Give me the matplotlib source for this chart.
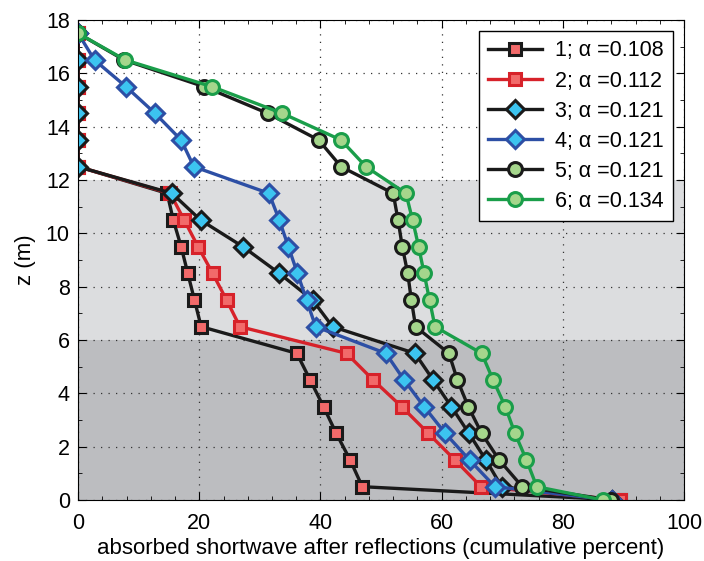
import numpy as np
import matplotlib
matplotlib.use('Agg')
import matplotlib.pyplot as plt
from matplotlib.ticker import MultipleLocator

plt.rcParams['font.family'] = ['Liberation Sans', 'DejaVu Sans']

z = [17.5, 16.5, 15.5, 14.5, 13.5, 12.5, 11.5, 10.5, 9.5, 8.5, 7.5, 6.5,
     5.5, 4.5, 3.5, 2.5, 1.5, 0.5, 0.0]

s1 = [0, 0, 0, 0, 0, 0, 14.7, 15.7, 17.0, 18.1, 19.2, 20.3,
      36.1, 38.3, 40.5, 42.6, 44.9, 46.9, 89.5]
s2 = [0, 0, 0, 0, 0, 0, 15.2, 17.5, 19.8, 22.2, 24.5, 26.7,
      44.3, 48.7, 53.4, 57.8, 62.2, 66.5, 89.5]
s3 = [0, 0, 0, 0, 0, 0, 15.5, 20.2, 27.2, 33.2, 38.7, 42.0,
      55.6, 58.6, 61.6, 64.5, 67.3, 69.9, 88.1]
s4 = [0, 2.7, 7.9, 12.7, 17.0, 19.1, 31.5, 33.2, 34.7, 36.2, 37.7, 39.2,
      50.8, 53.8, 57.1, 60.6, 64.6, 68.8, 88.1]
s5 = [0, 7.6, 20.8, 31.3, 39.7, 43.4, 52.0, 52.8, 53.5, 54.4, 55.0, 55.7,
      61.2, 62.6, 64.4, 66.6, 69.5, 73.3, 88.0]
s6 = [0, 7.8, 22.1, 33.7, 43.4, 47.5, 54.1, 55.2, 56.2, 57.1, 58.0, 58.9,
      66.6, 68.5, 70.5, 72.1, 74.0, 75.7, 86.6]

labels = ['1; \u03b1 =0.108', '2; \u03b1 =0.112', '3; \u03b1 =0.121',
          '4; \u03b1 =0.121', '5; \u03b1 =0.121', '6; \u03b1 =0.134']

red_fill = '#f26a6a'
cyan_fill = '#3cc4f0'
green_fill = '#a5d68c'
styles = [
    dict(color='#1a1a1a', marker='s', mfc=red_fill, mec='#1a1a1a', ms=9),
    dict(color='#d7222a', marker='s', mfc=red_fill, mec='#d7222a', ms=9),
    dict(color='#1a1a1a', marker='D', mfc=cyan_fill, mec='#1a1a1a', ms=9),
    dict(color='#2d4fa5', marker='D', mfc=cyan_fill, mec='#2d4fa5', ms=9),
    dict(color='#1a1a1a', marker='o', mfc=green_fill, mec='#1a1a1a', ms=10),
    dict(color='#1a9e4a', marker='o', mfc=green_fill, mec='#1a9e4a', ms=10),
]

fig = plt.figure(figsize=(7.04, 5.61), dpi=100)
ax = fig.add_axes([0.111, 0.1087, 0.8606, 0.8556])

ax.axhspan(0, 6, color='#bcbdc0', zorder=0.5, lw=0)
ax.axhspan(6, 12, color='#dcdddf', zorder=0.5, lw=0)

for s, st, lab in zip([s1, s2, s3, s4, s5, s6], styles, labels):
    ax.plot(s, z, lw=2.4, mew=2.2, label=lab, **st)

ax.set_xlim(0, 100)
ax.set_ylim(0, 18)
ax.xaxis.set_major_locator(MultipleLocator(20))
ax.xaxis.set_minor_locator(MultipleLocator(4))
ax.yaxis.set_major_locator(MultipleLocator(2))
ax.yaxis.set_minor_locator(MultipleLocator(1))
ax.tick_params(which='both', direction='in', top=True, right=True, labelsize=15.5)
ax.tick_params(axis='x', pad=9)
ax.tick_params(axis='y', pad=6)
ax.tick_params(which='major', length=6)
ax.tick_params(which='minor', length=3)
ax.grid(True, which='major', linestyle=(0, (1, 5)), color='#333333', lw=0.9)
ax.set_axisbelow('line')

ax.set_xlabel('absorbed shortwave after reflections (cumulative percent)', fontsize=16, labelpad=3)
ax.set_ylabel('z (m)', fontsize=16, labelpad=7)

leg = ax.legend(loc='upper right', fontsize=15.5, frameon=True, fancybox=False,
                edgecolor='black', framealpha=1, borderaxespad=0.5,
                handlelength=2.5, labelspacing=0.42, borderpad=0.45,
                handletextpad=0.6)
leg.get_frame().set_linewidth(1.0)

fig.savefig('out.png', dpi=100)
